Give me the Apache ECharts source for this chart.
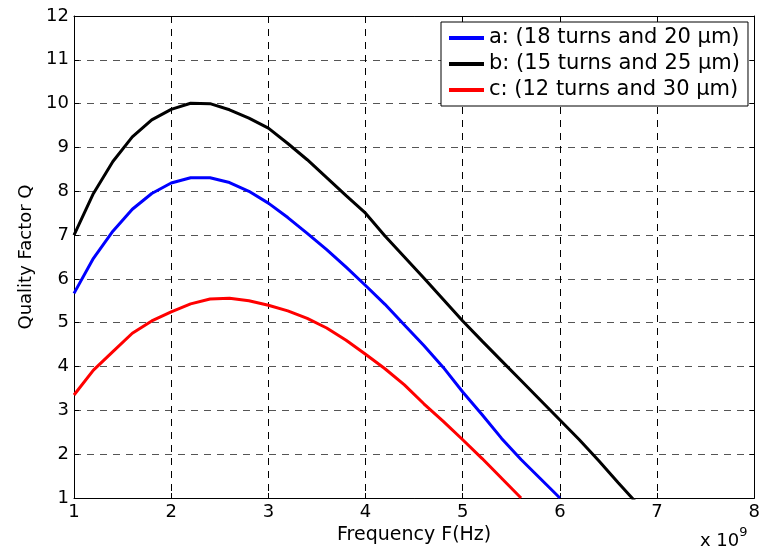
<!DOCTYPE html>
<html>
<head>
<meta charset="utf-8">
<script src="https://cdn.jsdelivr.net/npm/echarts@6/dist/echarts.min.js"></script>
<style>
  html, body { margin: 0; padding: 0; background: #fff; }
  #chart { width: 763px; height: 553px; }
</style>
</head>
<body>
<div id="chart"></div>
<script>
// frequency in units of 10^9 Hz
var freq = [1.0, 1.2, 1.4, 1.6, 1.8, 2.0, 2.2, 2.4, 2.6, 2.8,
            3.0, 3.2, 3.4, 3.6, 3.8, 4.0, 4.2, 4.4, 4.6, 4.8,
            5.0, 5.2, 5.4, 5.6, 5.8, 6.0, 6.2, 6.4, 6.6, 6.8];

// a: 18 turns, 20 um (blue)
var qA = [5.67, 6.47, 7.09, 7.59, 7.95, 8.19, 8.31, 8.31, 8.2, 8.0,
          7.73, 7.4, 7.04, 6.67, 6.27, 5.85, 5.42, 4.95, 4.48, 3.98,
          3.42, 2.9, 2.36, 1.88, 1.44, 1.0];
// b: 15 turns, 25 um (black)
var qB = [7.0, 7.95, 8.68, 9.24, 9.63, 9.87, 10.01, 10.0, 9.86, 9.67,
          9.44, 9.09, 8.72, 8.31, 7.9, 7.5, 6.98, 6.5, 6.02, 5.53,
          5.04, 4.58, 4.13, 3.68, 3.23, 2.78, 2.33, 1.85, 1.35, 0.86];
// c: 12 turns, 30 um (red)
var qC = [3.35, 3.92, 4.34, 4.76, 5.04, 5.25, 5.43, 5.54, 5.56, 5.5,
          5.4, 5.27, 5.1, 4.88, 4.6, 4.28, 3.95, 3.58, 3.15, 2.75,
          2.33, 1.9, 1.45, 1.0];

var names = ["a: (18 turns and 20 µm)", "b: (15 turns and 25 µm)", "c: (12 turns and 30 µm)"];
var colors = ["#0000ff", "#000000", "#ff0000"];

function pairs(q) {
  return q.map(function (v, i) { return [freq[i], v]; });
}

var font = "DejaVu Sans, Liberation Sans, sans-serif";
var myChart = echarts.init(document.getElementById("chart"));

function makeSeries(name, q, color) {
  return {
    name: name,
    type: "line",
    data: pairs(q),
    symbol: "none",
    clip: true,
    lineStyle: { color: color, width: 3 },
    itemStyle: { color: color }
  };
}

var option = {
  animation: false,
  backgroundColor: "#fff",
  textStyle: { fontFamily: font },
  grid: { left: 74, top: 16, width: 682, height: 482, show: false },
  legend: {
    left: 441,
    top: 22,
    orient: "vertical",
    data: names,
    icon: "rect",
    itemWidth: 35,
    itemHeight: 4,
    itemGap: 4,
    padding: [5, 8, 5, 8],
    backgroundColor: "#fff",
    borderColor: "#000",
    borderWidth: 1,
    borderRadius: 0,
    textStyle: { fontSize: 21, color: "#000", fontFamily: font, lineHeight: 22 }
  },
  xAxis: [
    {
      type: "value",
      min: 1,
      max: 8,
      interval: 1,
      name: "Frequency F(Hz)",
      nameLocation: "middle",
      nameGap: 28,
      nameTextStyle: { fontSize: 19, color: "#000", fontFamily: font },
      axisLine: { lineStyle: { color: "#000", width: 1 } },
      axisTick: { inside: true, length: 5, lineStyle: { color: "#000" } },
      axisLabel: { fontSize: 18, color: "#000", margin: 5, fontFamily: font },
      splitLine: { show: true, lineStyle: { color: "#000", type: [7, 6], width: 1 } }
    },
    {
      type: "value",
      position: "top",
      min: 1,
      max: 8,
      interval: 1,
      axisLine: { lineStyle: { color: "#000", width: 1 } },
      axisTick: { inside: true, length: 5, lineStyle: { color: "#000" } },
      axisLabel: { show: false },
      splitLine: { show: false }
    }
  ],
  yAxis: [
    {
      type: "value",
      min: 1,
      max: 12,
      interval: 1,
      name: "Quality Factor Q",
      nameLocation: "middle",
      nameGap: 37,
      nameTextStyle: { fontSize: 18, color: "#000", fontFamily: font },
      axisLine: { show: true, lineStyle: { color: "#000", width: 1 } },
      axisTick: { show: true, inside: true, length: 5, lineStyle: { color: "#000" } },
      axisLabel: { fontSize: 18, color: "#000", margin: 5, fontFamily: font },
      splitLine: { show: true, lineStyle: { color: "#555", type: [7, 6], width: 1 } }
    },
    {
      type: "value",
      position: "right",
      min: 1,
      max: 12,
      interval: 1,
      axisLine: { show: true, lineStyle: { color: "#000", width: 1 } },
      axisTick: { show: true, inside: true, length: 5, lineStyle: { color: "#000" } },
      axisLabel: { show: false },
      splitLine: { show: false }
    }
  ],
  graphic: [
    {
      type: "text",
      left: 700,
      top: 526,
      style: {
        text: "{a|x 10}{b|9}",
        rich: {
          a: { fontSize: 18, fill: "#000", fontFamily: font, padding: [6, 0, 0, 0] },
          b: { fontSize: 13, fill: "#000", fontFamily: font, verticalAlign: "top" }
        }
      }
    }
  ],
  series: [
    makeSeries(names[0], qA, colors[0]),
    makeSeries(names[1], qB, colors[1]),
    makeSeries(names[2], qC, colors[2])
  ]
};

myChart.setOption(option);
</script>
</body>
</html>
